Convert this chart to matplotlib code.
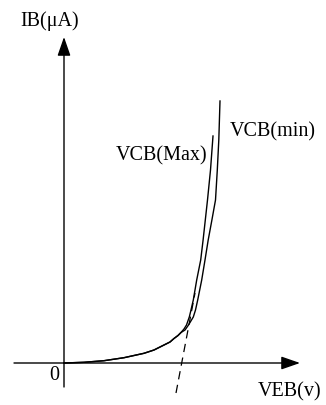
import matplotlib
matplotlib.use("Agg")
import matplotlib.pyplot as plt

# input characteristic, VEB in volts, IB in uA (schematic values)
veb_common = [0.0, 0.10, 0.20, 0.30, 0.40, 0.45, 0.50, 0.53, 0.55, 0.57, 0.585]
ib_common = [0.0, 0.28, 0.92, 2.12, 3.88, 5.2, 7.2, 8.4, 9.8, 11.0, 12.2]

veb_max = veb_common + [0.60, 0.6125, 0.6265, 0.635, 0.6465, 0.6635, 0.6835,
                        0.6955, 0.7175, 0.7325, 0.745]
ib_max = ib_common + [13.6, 15.2, 18.4, 21.2, 25.2, 33.2, 41.2,
                      49.2, 65.2, 77.2, 90.8]

veb_min = veb_common + [0.605, 0.6225, 0.6465, 0.6575, 0.6685, 0.6885, 0.705,
                        0.721, 0.7395, 0.7575, 0.7665, 0.774, 0.78]
ib_min = ib_common + [13.2, 15.2, 18.4, 21.2, 25.2, 33.2, 41.2,
                      49.2, 57.2, 65.2, 77.2, 89.2, 104.8]

# tangent line (threshold extrapolation)
veb_tan = [0.56, 0.655]
ib_tan = [-12.0, 28.0]

W, H = 326, 405
fig = plt.figure(figsize=(W / 100, H / 100), dpi=100)
ax = fig.add_axes([0, 0, 1, 1])
ax.set_xlim(-0.32, 1.31)
ax.set_ylim(-16.8, 145.2)
ax.axis("off")

plt.rcParams["lines.scale_dashes"] = False

ax.plot(veb_max, ib_max, color="black", lw=1.0)
ax.plot(veb_min, ib_min, color="black", lw=1.0)
ax.plot(veb_tan, ib_tan, color="black", lw=0.9, linestyle=(0, (6, 4)))

arrow = dict(arrowstyle="-|>,head_length=1.15,head_width=0.4", color="black",
             lw=1.0, shrinkA=0, shrinkB=0, mutation_scale=10)
ax.annotate("", xy=(1.18, 0), xytext=(-0.25, 0), arrowprops=arrow)
ax.annotate("", xy=(0, 130.4), xytext=(0, -9.6), arrowprops=arrow)


def px(x, y):
    return x / W, 1 - y / H


font = dict(family="Liberation Serif", fontsize=14.5, color="black")
ax.text(*px(20, 21), "IB(μA)", transform=ax.transAxes, ha="left", va="center", **font)
ax.text(*px(230, 132), "VCB(min)", transform=ax.transAxes, ha="left", va="center", **font)
ax.text(*px(116, 156), "VCB(Max)", transform=ax.transAxes, ha="left", va="center", **font)
ax.text(*px(54, 376), "0", transform=ax.transAxes, ha="center", va="center", **font)
ax.text(*px(258, 392), "VEB(v)", transform=ax.transAxes, ha="left", va="center", **font)

fig.savefig("out.png", dpi=100)
